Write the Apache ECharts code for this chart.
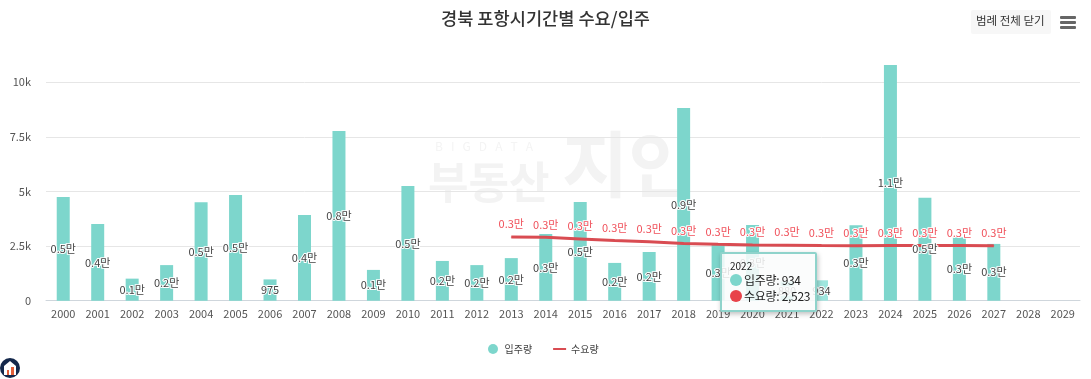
<!DOCTYPE html>
<html>
<head>
<meta charset="utf-8">
<title>경북 포항시기간별 수요/입주</title>
<script src="https://cdn.jsdelivr.net/npm/echarts@6/dist/echarts.min.js"></script>
<style>
    html, body { margin: 0; padding: 0; background: #fff; }
    #chart { width: 1091px; height: 379px; }
</style>
</head>
<body>
<div id="chart"></div>
<script>
const years = ["2000","2001","2002","2003","2004","2005","2006","2007","2008","2009","2010","2011","2012","2013","2014","2015","2016","2017","2018","2019","2020","2021","2022","2023","2024","2025","2026","2027","2028","2029"];
const moveIn = [4750,3510,1010,1630,4510,4840,975,3920,7770,1410,5250,1820,1630,1950,3050,4520,1730,2230,8820,2550,3470,880,934,3450,10790,4710,2900,2600,null,null];
const demand = [null,null,null,null,null,null,null,null,null,null,null,null,null,2920,2900,2830,2760,2700,2620,2580,2550,2540,2523,2520,2530,2530,2530,2520,null,null];

const FONT = '"Noto Sans CJK KR", "Noto Sans", sans-serif';
const TEAL = "#7dd6cc";
const RED = "#d94c52";
const HOVER_INDEX = 22;

const manLabel = (v) => {
    if (v >= 1000) return (v / 10000).toFixed(1) + "만";
    return v.toLocaleString("en-US");
};

const dot = (color) =>
    `<span style="display:inline-block;width:12px;height:12px;border-radius:50%;background:${color};margin-right:2px;vertical-align:-1px"></span>`;

const myChart = echarts.init(document.getElementById("chart"));

const option = {
    animation: false,
    textStyle: { fontFamily: FONT },
    title: {
        text: "경북 포항시기간별 수요/입주",
        left: "center",
        top: 5,
        textStyle: { fontFamily: FONT, fontSize: 17.6, fontWeight: 500, color: "#333" },
    },
    grid: { left: 46, right: 11, top: 27.7, height: 273 },
    legend: {
        left: 483,
        top: 339,
        itemWidth: 13,
        itemHeight: 10,
        itemGap: 20,
        textStyle: { fontFamily: FONT, fontSize: 10, color: "#444" },
        data: [
            { name: "입주량", icon: "circle" },
            { name: "수요량", itemStyle: { opacity: 0 } },
        ],
    },
    tooltip: {
        trigger: "axis",
        alwaysShowContent: true,
        axisPointer: { type: "none" },
        position: [720, 252],
        padding: [6, 8],
        backgroundColor: "rgba(250,252,252,0.86)",
        borderColor: "#8fd3cb",
        borderWidth: 2,
        borderRadius: 2,
        extraCssText: "box-shadow:1px 2px 5px rgba(0,0,0,0.25);width:77px;height:44px;box-sizing:content-box;",
        textStyle: { fontFamily: FONT, color: "#222" },
        formatter: (params) => {
            const rows = params
                .filter((p) => p.value != null && p.seriesName !== "라벨")
                .map((p) => {
                    const color = p.seriesName === "입주량" ? TEAL : "#e8434a";
                    return `<div style="font-size:12px;line-height:16px;letter-spacing:-0.3px;white-space:nowrap">${dot(color)}${p.seriesName}: ${p.value.toLocaleString("en-US")}</div>`;
                })
                .join("");
            return `<div style="font-size:10px;line-height:12px">${params[0].axisValue}</div>${rows}`;
        },
    },
    xAxis: {
        type: "category",
        data: years,
        axisTick: { show: false },
        axisLine: { lineStyle: { color: "#cfd6dc" } },
        axisLabel: { color: "#555", fontSize: 11, margin: 8, interval: 0 },
    },
    yAxis: {
        type: "value",
        min: 0,
        max: 12500,
        interval: 2500,
        axisLine: { show: false },
        axisTick: { show: false },
        splitLine: { showMaxLine: false, lineStyle: { color: "#e6e6e6" } },
        axisLabel: {
            color: "#555",
            fontSize: 11,
            margin: 15,
            padding: [0, 0, 2, 0],
            showMaxLabel: false,
            formatter: (v) => (v === 0 ? "0" : v / 1000 + "k"),
        },
    },
    series: [
        {
            name: "입주량",
            type: "bar",
            z: 2,
            barWidth: 13,
            barGap: "-100%",
            data: moveIn,
            itemStyle: { color: TEAL },
            emphasis: { itemStyle: { color: "#9fe6de" } },
        },
        {
            name: "수요량",
            type: "line",
            z: 3,
            data: demand,
            symbol: "circle",
            symbolSize: 1,
            showSymbol: true,
            lineStyle: { color: RED, width: 3 },
            itemStyle: { color: RED },
            emphasis: { disabled: true, scale: false },
            label: {
                show: true,
                position: "top",
                distance: 7,
                fontSize: 11,
                color: "#f0505a",
                textBorderColor: "#fff",
                textBorderWidth: 2,
                formatter: (p) => manLabel(p.value),
            },
        },
        // 입주량 라벨을 수요량 선 위로 올리기 위한 투명 막대
        {
            name: "라벨",
            type: "bar",
            z: 4,
            barWidth: 13,
            barGap: "-100%",
            data: moveIn,
            silent: true,
            itemStyle: { color: "transparent" },
            emphasis: { disabled: true },
            label: {
                show: true,
                position: "inside",
                fontSize: 11,
                color: "#444",
                textBorderColor: "#fff",
                textBorderWidth: 2,
                formatter: (p) => manLabel(p.value),
            },
        },
    ],
    graphic: [
        // 워터마크
        { type: "text", silent: true, z: 0, left: 435, top: 140, style: { text: "B   I   G   D   A   T   A", font: '400 12px ' + FONT, fill: "#f4f4f4" } },
        { type: "text", silent: true, z: 0, left: 428, top: 160, style: { text: "부동산", font: '700 44px ' + FONT, fill: "#f3f3f3" } },
        { type: "text", silent: true, z: 0, left: 562, top: 128, style: { text: "지인", font: '700 72px ' + FONT, fill: "#f3f3f3" } },
        // 범례 전체 닫기 버튼
        { type: "rect", silent: true, shape: { x: 971, y: 10, width: 80, height: 24, r: 2 }, style: { fill: "#f7f7f7" } },
        { type: "text", silent: true, left: 976, top: 15, style: { text: "범례 전체 닫기", font: '400 11.5px ' + FONT, fill: "#333" } },
        // 메뉴 아이콘
        { type: "rect", silent: true, shape: { x: 1060, y: 16, width: 16, height: 3, r: 1 }, style: { fill: "#666" } },
        { type: "rect", silent: true, shape: { x: 1060, y: 21, width: 16, height: 3, r: 1 }, style: { fill: "#666" } },
        { type: "rect", silent: true, shape: { x: 1060, y: 26, width: 16, height: 3, r: 1 }, style: { fill: "#666" } },
        // 좌측 하단 로고
        { type: "circle", silent: true, shape: { cx: 10, cy: 368, r: 10 }, style: { fill: "#14284b" } },
        { type: "polygon", silent: true, shape: { points: [[10, 361], [16, 366], [16, 375], [4, 375], [4, 366]] }, style: { fill: "#fff" } },
        { type: "rect", silent: true, shape: { x: 7, y: 370, width: 2, height: 5 }, style: { fill: "#e2603a" } },
        { type: "rect", silent: true, shape: { x: 11, y: 367, width: 3, height: 8 }, style: { fill: "#e2603a" } },
    ],
};

myChart.setOption(option);

// 캡처 시점의 호버 상태 (2022)
myChart.dispatchAction({ type: "highlight", seriesIndex: 0, dataIndex: HOVER_INDEX });
myChart.dispatchAction({ type: "showTip", seriesIndex: 0, dataIndex: HOVER_INDEX });

const resizeHandler = () => myChart.resize();
window.addEventListener("resize", resizeHandler);
</script>
</body>
</html>
